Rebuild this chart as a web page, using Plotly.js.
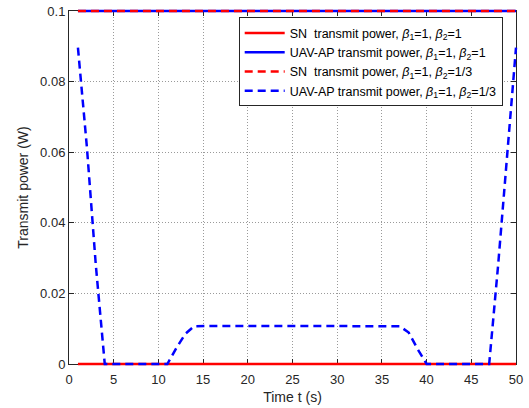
<!DOCTYPE html>
<html>
<head>
<meta charset="utf-8">
<script src="https://cdn.plot.ly/plotly-3.0.1.min.js"></script>
<style>html,body{margin:0;padding:0;background:#fff;}#chart{width:529px;height:408px;}</style>
</head>
<body>
<div id="chart"></div>
<script>
// Time axis (s)
const time = [1,2,3,4,5,6,7,8,9,10,11,12,13,14,15,16,17,18,19,20,21,22,23,24,25,26,27,28,29,30,31,32,33,34,35,36,37,38,39,40,41,42,43,44,45,46,47,48,49,50];
// SN transmit power, beta1=1, beta2=1
const snBeta1 = [0,0,0,0,0,0,0,0,0,0,0,0,0,0,0,0,0,0,0,0,0,0,0,0,0,0,0,0,0,0,0,0,0,0,0,0,0,0,0,0,0,0,0,0,0,0,0,0,0,0];
// UAV-AP transmit power, beta1=1, beta2=1
const uavBeta1 = [0.1,0.1,0.1,0.1,0.1,0.1,0.1,0.1,0.1,0.1,0.1,0.1,0.1,0.1,0.1,0.1,0.1,0.1,0.1,0.1,0.1,0.1,0.1,0.1,0.1,0.1,0.1,0.1,0.1,0.1,0.1,0.1,0.1,0.1,0.1,0.1,0.1,0.1,0.1,0.1,0.1,0.1,0.1,0.1,0.1,0.1,0.1,0.1,0.1,0.1];
// SN transmit power, beta1=1, beta2=1/3
const snBeta3 = [0.1,0.1,0.1,0.1,0.1,0.1,0.1,0.1,0.1,0.1,0.1,0.1,0.1,0.1,0.1,0.1,0.1,0.1,0.1,0.1,0.1,0.1,0.1,0.1,0.1,0.1,0.1,0.1,0.1,0.1,0.1,0.1,0.1,0.1,0.1,0.1,0.1,0.1,0.1,0.1,0.1,0.1,0.1,0.1,0.1,0.1,0.1,0.1,0.1,0.1];
// UAV-AP transmit power, beta1=1, beta2=1/3
const uavBeta3 = [0.0896,0.0615,0.028,0,0,0,0,0,0,0,0,0.0045,0.0085,0.0107,0.0108,0.0108,0.0108,0.0108,0.0108,0.0108,0.0108,0.0108,0.0108,0.0108,0.0108,0.0108,0.0108,0.0108,0.0108,0.0108,0.0108,0.0108,0.0108,0.0108,0.0108,0.0108,0.0107,0.0089,0.0042,0,0,0,0,0,0,0,0,0.028,0.059,0.0896];

const names = [
  'SN\u00A0 transmit power, <i>β</i><sub>1</sub>=1, <i>β</i><sub>2</sub>=1',
  'UAV-AP transmit power, <i>β</i><sub>1</sub>=1, <i>β</i><sub>2</sub>=1',
  'SN\u00A0 transmit power, <i>β</i><sub>1</sub>=1, <i>β</i><sub>2</sub>=1/3',
  'UAV-AP transmit power, <i>β</i><sub>1</sub>=1, <i>β</i><sub>2</sub>=1/3'
];
const xRange = [0, 50];
const yRange = [0, 0.1];
const xTickVals = [0,5,10,15,20,25,30,35,40,45,50];
const yTickVals = [0,0.02,0.04,0.06,0.08,0.1];
const yTickText = ['0','0.02','0.04','0.06','0.08','0.1'];

// Geometry: the framed axes box, plus an unclipped overlay for the lines
const W = 529, H = 408;
const M = {l: 65, r: 9, t: 7, b: 40};
const PAD = 4; // px of room so lines on the frame are not cut
const pw = W - M.l - M.r, ph = H - M.t - M.b;
const xPerPx = (xRange[1] - xRange[0]) / (pw - 2 * PAD);
const yPerPx = (yRange[1] - yRange[0]) / (ph - 2 * PAD);

const red = '#ff0000', blue = '#0000ff';
const lw = 2.5, dashPat = '8px,5px';
const traces = [
  {x: time, y: snBeta1, name: names[0], mode: 'lines', line: {color: red, width: lw}, xaxis: 'x2', yaxis: 'y2'},
  {x: time, y: uavBeta1, name: names[1], mode: 'lines', line: {color: blue, width: lw}, xaxis: 'x2', yaxis: 'y2'},
  {x: time, y: snBeta3, name: names[2], mode: 'lines', line: {color: red, width: lw, dash: dashPat}, xaxis: 'x2', yaxis: 'y2'},
  {x: time, y: uavBeta3, name: names[3], mode: 'lines', line: {color: blue, width: lw, dash: dashPat}, xaxis: 'x2', yaxis: 'y2'},
  {x: [], y: [], mode: 'lines', showlegend: false, hoverinfo: 'skip', xaxis: 'x', yaxis: 'y'}
];
const axisColor = '#262626';
const gridCol = '#9a9a9a';
const layout = {
  width: W, height: H,
  margin: {l: M.l, r: M.r, t: M.t, b: M.b, pad: 0},
  paper_bgcolor: '#ffffff', plot_bgcolor: 'rgba(0,0,0,0)',
  font: {family: '"Liberation Sans", Arial, sans-serif', size: 13, color: axisColor},
  showlegend: true,
  legend: {
    x: (502.7 - M.l) / pw, xanchor: 'right', y: (H - M.b - 17.3) / ph, yanchor: 'top',
    bgcolor: '#ffffff', bordercolor: axisColor, borderwidth: 1,
    font: {size: 12.5, color: '#000000'}, itemwidth: 40, tracegroupgap: 0
  },
  xaxis: {
    domain: [PAD / pw, 1 - PAD / pw], anchor: 'y',
    range: xRange, tickvals: xTickVals, ticks: 'inside', ticklen: 5, tickcolor: axisColor,
    showline: true, linecolor: axisColor, linewidth: 1, mirror: 'ticks',
    showgrid: true, gridcolor: gridCol, griddash: '1px,2px', gridwidth: 1,
    zeroline: false, ticklabelstandoff: 3,
    title: {text: 'Time t (s)', font: {size: 14}, standoff: 6},
    tickfont: {size: 13}
  },
  yaxis: {
    domain: [PAD / ph, 1 - PAD / ph], anchor: 'x',
    range: yRange, tickvals: yTickVals, ticktext: yTickText, ticks: 'inside', ticklen: 5, tickcolor: axisColor,
    showline: true, linecolor: axisColor, linewidth: 1, mirror: 'ticks',
    showgrid: true, gridcolor: gridCol, griddash: '1px,2px', gridwidth: 1,
    zeroline: false,
    title: {text: 'Transmit power (W)', font: {size: 14}, standoff: 8},
    tickfont: {size: 13}
  },
  xaxis2: {
    domain: [0, 1], anchor: 'y2',
    range: [xRange[0] - PAD * xPerPx, xRange[1] + PAD * xPerPx],
    showline: false, showgrid: false, zeroline: false, showticklabels: false, ticks: ''
  },
  yaxis2: {
    domain: [0, 1], anchor: 'x2',
    range: [yRange[0] - PAD * yPerPx, yRange[1] + PAD * yPerPx],
    showline: false, showgrid: false, zeroline: false, showticklabels: false, ticks: ''
  }
};
Plotly.newPlot('chart', traces, layout, {displayModeBar: false, staticPlot: true});
</script>
</body>
</html>
